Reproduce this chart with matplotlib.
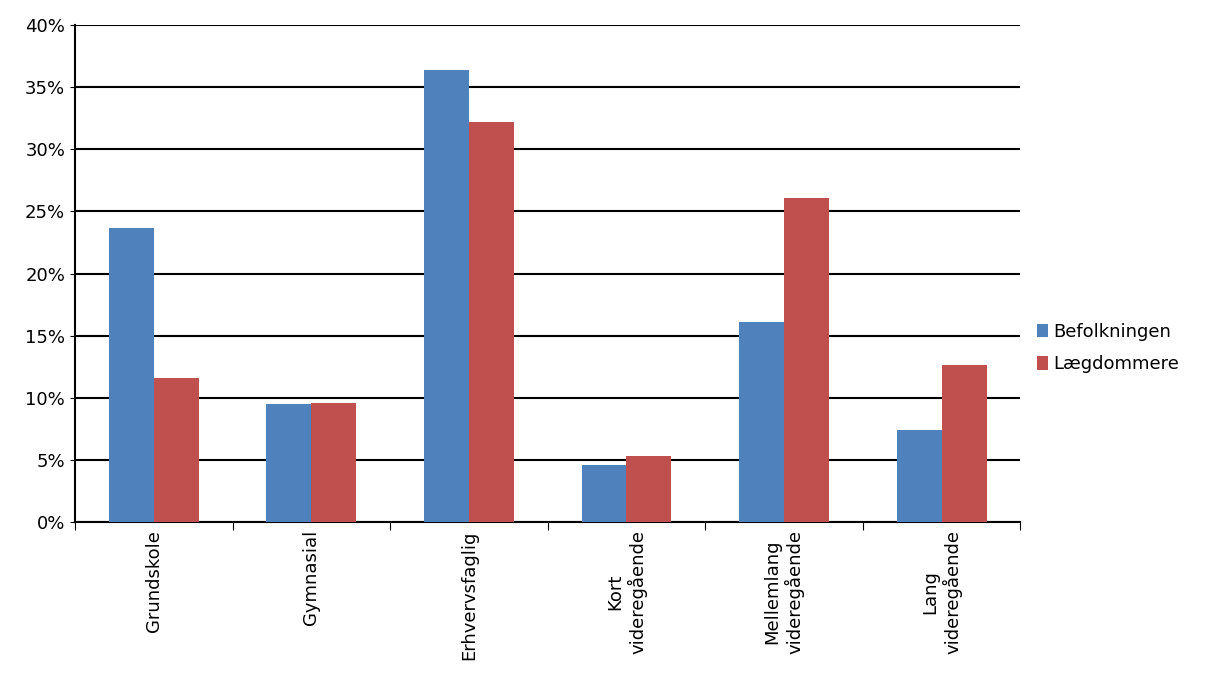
import matplotlib
matplotlib.use('Agg')
import matplotlib.pyplot as plt
import numpy as np

categories = ["Grundskole", "Gymnasial", "Erhvervsfaglig", "Kort\nvideregående",
              "Mellemlang\nvideregående", "Lang\nvideregående"]
befolkningen = [23.7, 9.5, 36.4, 4.6, 16.1, 7.4]
laegdommere = [11.6, 9.6, 32.2, 5.3, 26.1, 12.6]

fig = plt.figure(figsize=(12.28, 6.83), dpi=100, facecolor='white')
ax = fig.add_axes([0.061, 0.236, 0.77, 0.727])

x = np.arange(len(categories))
w = 0.285
ax.bar(x - w/2, befolkningen, w, color='#4F81BD', label='Befolkningen', zorder=3)
ax.bar(x + w/2, laegdommere, w, color='#C0504D', label='Lægdommere', zorder=3)

ax.set_xlim(-0.5, 5.5)
ax.set_ylim(0, 40)
ax.set_yticks(range(0, 41, 5))
ax.set_yticklabels([f"{v}%" for v in range(0, 41, 5)], fontsize=13)
ax.yaxis.grid(True, color='black', linewidth=1.5, zorder=0)
ax.set_xticks(np.arange(-0.5, 6, 1), minor=False)
ax.set_xticklabels([])
ax.set_xticks(x, minor=True)
ax.set_xticklabels(categories, minor=True, rotation=90, fontsize=13, va='top')
ax.tick_params(axis='x', which='minor', length=0, pad=6)
ax.tick_params(axis='x', which='major', length=6, direction='out')
for s in ['top', 'right']:
    ax.spines[s].set_visible(False)
ax.spines['left'].set_linewidth(1.5)
ax.spines['bottom'].set_linewidth(1.5)

ax.legend(loc='center left', bbox_to_anchor=(1.0, 0.35), frameon=False,
          fontsize=13, handlelength=0.6, handleheight=0.8, handletextpad=0.3,
          labelspacing=0.8)

fig.savefig("out.png", dpi=100)
